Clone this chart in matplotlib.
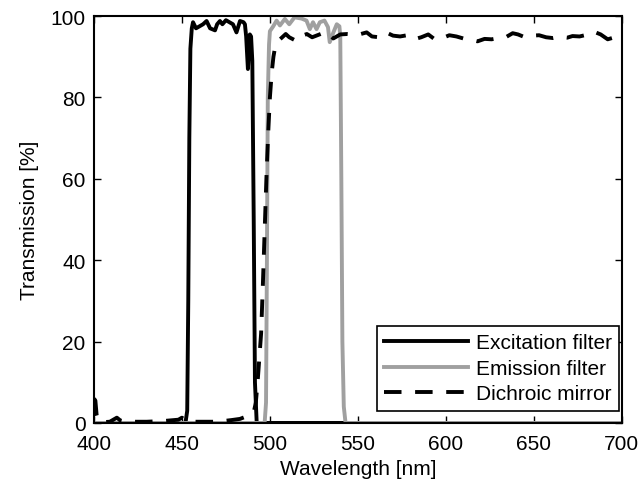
import matplotlib
matplotlib.use("Agg")
import matplotlib.pyplot as plt

plt.rcParams['font.family'] = ['Liberation Sans', 'DejaVu Sans']

# excitation filter (black solid)
exc_wl = [400, 452, 453, 453.6, 454.2, 454.8, 455.6, 456.3, 458, 460, 462, 464, 466,
          468.8, 470, 471.6, 473, 475, 477, 479, 481, 483, 485, 485.8, 486.5,
          487.5, 488.6, 489.3, 490, 490.8, 491.5, 492.5, 700]
exc_val = [0, 0, 3, 30, 70, 92, 97, 98.5, 97, 97.5, 98, 98.8, 97,
           96.5, 98, 98.8, 98, 99, 98.5, 98, 96, 98.8, 98.5, 98, 95,
           87, 95.5, 95, 89, 50, 10, 0, 0]

# emission filter (grey solid)
em_wl = [400, 497, 497.8, 498.3, 498.8, 499.5, 500, 501.9, 503.8, 505.7, 508.5, 511,
         514, 518, 520.8, 522.7, 524.5, 526.5, 528.4, 531, 533, 534, 536, 538,
         539.5, 540, 540.6, 541.2, 542, 543, 700]
em_val = [0, 0, 5, 40, 80, 93, 96.3, 97.5, 98.9, 97.7, 99.3, 98,
          99.7, 99.4, 98.9, 96.8, 98.5, 96.8, 98.5, 98.9, 97.3, 93.6, 95.9, 98,
          97.5, 95, 60, 20, 4, 0, 0]

# dichroic mirror (black dashed)
di_wl = [400, 400.8, 401.5, 402.5, 405, 409, 411, 413, 415, 418, 430, 440, 448, 450,
         452, 456, 470, 478, 483, 486, 489, 491, 492, 493, 494, 495, 496, 497, 498,
         499, 500, 501, 502, 503, 505, 509, 511, 515, 517, 521, 524, 527, 530, 533,
         536, 540, 544, 547, 550, 555, 558, 562, 566, 570, 574, 578, 582, 586, 590,
         594, 598, 602, 606, 610, 614, 618, 622, 626, 630, 634, 638, 641, 645, 649,
         653, 657, 661, 665, 669, 672, 676, 680, 684, 688, 692, 696, 700]
di_val = [6, 5.5, 2, 0.5, 0.2, 0.3, 0.8, 1.3, 0.6, 0.3, 0.3, 0.5, 0.8, 1.3,
          0.6, 0.3, 0.3, 0.7, 1, 1.5, 2, 3, 5, 10, 16, 22, 34, 47, 60,
          71, 80, 86, 90, 92.5, 94, 95.6, 94.8, 93.9, 95, 95.6, 94.8, 95.3, 95.8, 96,
          94.5, 95.5, 95.6, 95.5, 95.4, 96, 95, 94.8, 96, 95.2, 95, 95.3, 94.3, 94.8, 95.5,
          94.2, 94.6, 95.3, 95, 94.5, 94.2, 93.8, 94.4, 94.3, 94.6, 94.8, 95.8, 95.5, 94.8, 95.2,
          95.3, 94.8, 94.6, 94.9, 94.7, 95.1, 95, 95.4, 96.2, 95.5, 94.3, 94.8, 93.8]

fig = plt.figure(figsize=(6.41, 4.89), dpi=100)
ax = fig.add_axes([0.1466, 0.133, 0.8234, 0.832])

ax.plot(exc_wl, exc_val, color='black', lw=2.8, label='Excitation filter')
ax.plot(em_wl, em_val, color='#a0a0a0', lw=2.8, label='Emission filter')
ax.plot(di_wl, di_val, color='black', lw=2.8, linestyle=(0, (4.5, 3.5)),
        label='Dichroic mirror')

ax.set_xlim(400, 700)
ax.set_ylim(0, 100)
ax.set_xticks(range(400, 701, 50))
ax.set_yticks(range(0, 101, 20))
ax.tick_params(direction='in', top=True, right=True, length=5, width=1,
               labelsize=15)
ax.tick_params(axis='x', pad=8)
ax.tick_params(axis='y', pad=6)
for s in ax.spines.values():
    s.set_linewidth(1.5)
ax.set_xlabel('Wavelength [nm]', fontsize=15, labelpad=4)
ax.set_ylabel('Transmission [%]', fontsize=15, labelpad=8)

leg = ax.legend(loc='lower right', bbox_to_anchor=(0.995, 0.03), borderaxespad=0,
                fontsize=15, frameon=True, fancybox=False,
                edgecolor='black', framealpha=1, handlelength=4.0,
                labelspacing=0.32, borderpad=0.35, handletextpad=0.4)
leg.get_frame().set_linewidth(1.2)

fig.savefig('out.png', dpi=100)
